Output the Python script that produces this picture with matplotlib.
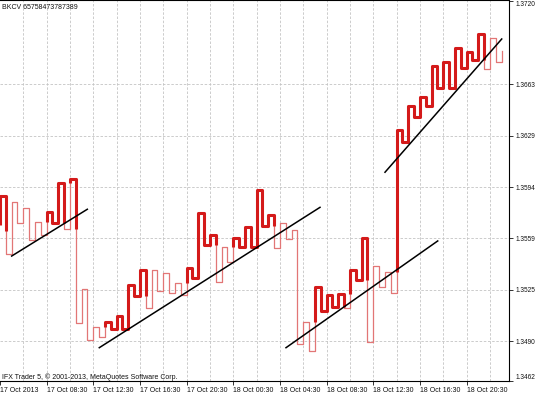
import matplotlib
matplotlib.use('Agg')
import matplotlib.pyplot as plt

# Kagi reversal prices, one per 30 minute slot (slot 0 = 17 Oct 04:30)
kagi_start = 1.35684
kagi_first_low = 1.35643
kagi_prices = [
    1.35880, 1.35488, 1.35839, 1.35697, 1.35801, 1.35582, 1.35706, 1.35616,
    1.35774, 1.35695, 1.35969, 1.35655, 1.35992, 1.35022, 1.35251, 1.34907,
    1.34995, 1.34927, 1.35029, 1.34981, 1.35072, 1.34981, 1.35279, 1.35201,
    1.35380, 1.35123, 1.35380, 1.35235, 1.35360, 1.35222, 1.35290, 1.35211,
    1.35391, 1.35324, 1.35763, 1.35549, 1.35616, 1.35301, 1.35537, 1.35436,
    1.35594, 1.35537, 1.35672, 1.35537, 1.35920, 1.35674, 1.35748, 1.35526,
    1.35695, 1.35591, 1.35652, 1.34877, 1.35031, 1.34831, 1.35263, 1.35103,
    1.35214, 1.35133, 1.35218, 1.35123, 1.35382, 1.35312, 1.35594, 1.34894,
    1.35407, 1.35267, 1.35366, 1.35221, 1.36327, 1.36244, 1.36485, 1.36415,
    1.36548, 1.36485, 1.36756, 1.36607, 1.36787, 1.36607, 1.36877, 1.36742,
    1.36854, 1.36798, 1.36976, 1.36735, 1.36945, 1.36787, 1.36861,
]

# hand drawn trend lines: (x0, x1), (price0, price1)
trend_x = [(2.0, 14.97), (17.02, 54.86), (49.03, 75.04), (66.0, 86.01)]
trend_p = [(1.35474, 1.35790), (1.34855, 1.35803), (1.34855, 1.35576),
           (1.36040, 1.36940)]

price_grid = [1.36636, 1.36288, 1.35940, 1.35593, 1.35245, 1.34900]
price_labels = ['1.3663', '1.3629', '1.3594', '1.3559', '1.3525', '1.3490']
price_top = 1.3720
price_bottom = 1.34630

time_ticks = [0, 8, 16, 24, 32, 40, 48, 56, 64, 72, 80]
time_labels = ['17 Oct 2013', '17 Oct 08:30', '17 Oct 12:30', '17 Oct 16:30',
               '17 Oct 20:30', '18 Oct 00:30', '18 Oct 04:30', '18 Oct 08:30',
               '18 Oct 12:30', '18 Oct 16:30', '18 Oct 20:30']

plt.rcParams['font.family'] = ['Liberation Sans', 'DejaVu Sans']


def kagi_segments(start, prices, low0):
    """
    Build the kagi line pieces, switching thick/thin on the usual rule:
    thick above the last shoulder, thin below the last waist.
    """
    segs = [([0, 0], [start, prices[0]], True)]
    thick = True
    last_high = prices[0]
    last_low = low0
    for i in range(1, len(prices)):
        prev = prices[i - 1]
        cur = prices[i]
        segs.append(([i - 1, i], [prev, prev], thick))
        if cur < prev:
            if thick and cur < last_low:
                segs.append(([i, i], [prev, last_low], True))
                segs.append(([i, i], [last_low, cur], False))
                thick = False
            else:
                segs.append(([i, i], [prev, cur], thick))
            last_low = cur
        else:
            if not thick and cur > last_high:
                segs.append(([i, i], [prev, last_high], False))
                segs.append(([i, i], [last_high, cur], True))
                thick = True
            else:
                segs.append(([i, i], [prev, cur], thick))
            last_high = cur
    # merge consecutive pieces of the same kind
    runs = []
    for xs, ys, kind in segs:
        if runs and runs[-1][2] == kind:
            runs[-1][0].append(xs[1])
            runs[-1][1].append(ys[1])
        else:
            runs.append(([xs[0], xs[1]], [ys[0], ys[1]], kind))
    return runs


fig = plt.figure(figsize=(5.36, 3.94), dpi=100)
ax = fig.add_axes([0, 13 / 394, 509 / 536, 380.5 / 394])

for gx in range(4, 88, 4):
    ax.axvline(gx, color='#c4c4c4', lw=0.6, ls=(0, (3, 2)), zorder=0)
for gy in price_grid:
    ax.axhline(gy, color='#c4c4c4', lw=0.6, ls=(0, (3, 2)), zorder=0)

for xs, ys, kind in kagi_segments(kagi_start, kagi_prices, kagi_first_low):
    if kind:
        ax.plot(xs, ys, color='#d41a1a', lw=2.2, solid_joinstyle='round',
                solid_capstyle='butt', zorder=2)
    else:
        ax.plot(xs, ys, color='#e27676', lw=0.9, solid_joinstyle='round',
                zorder=1)

for tx, tp in zip(trend_x, trend_p):
    ax.plot(tx, tp, color='black', lw=1.1, zorder=3)

ax.set_xlim(0, 509 / (23.333 / 4))
ax.set_ylim(price_bottom, price_top)

ax.yaxis.tick_right()
ax.set_yticks([price_top] + price_grid + [price_bottom],
              ['1.3720'] + price_labels + ['1.3462'])
ylabels = ax.get_yticklabels()
ylabels[0].set_va('top')
ylabels[-1].set_va('bottom')
ax.tick_params(axis='y', direction='out', length=3, width=0.6, pad=1.5,
               labelsize=4.7, colors='#111111')

ax.set_xticks(time_ticks, time_labels)
for lbl in ax.get_xticklabels():
    lbl.set_ha('left')
ax.tick_params(axis='x', direction='out', length=3, width=0.6, pad=1.5,
               labelsize=5, colors='#111111')

for side in ['top', 'right', 'bottom']:
    ax.spines[side].set_color('black')
    ax.spines[side].set_linewidth(0.8)
ax.spines['left'].set_visible(False)

ax.text(0.004, 0.982, 'BKCV 65758473787389', transform=ax.transAxes,
        fontsize=5, color='#111111', va='center', ha='left')
ax.text(0.004, 0.011, 'IFX Trader 5, \u00a9 2001-2013, MetaQuotes Software Corp.',
        transform=ax.transAxes, fontsize=5, color='#111111', va='center',
        ha='left')

fig.savefig('out.png', dpi=100)
